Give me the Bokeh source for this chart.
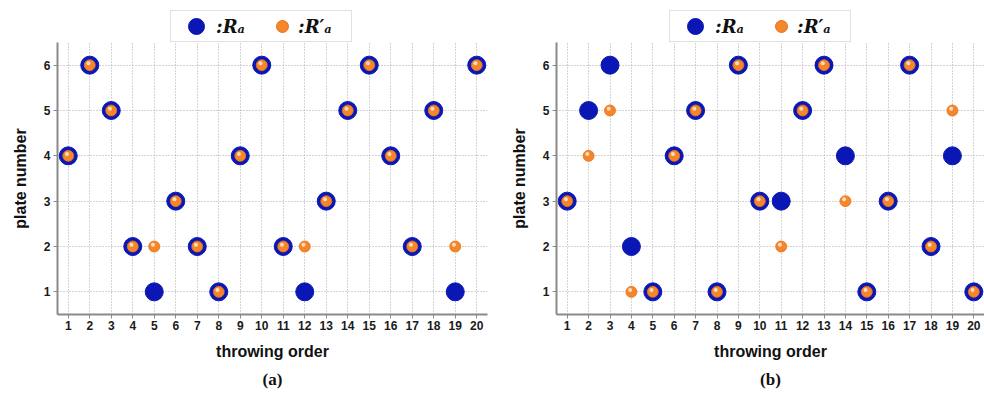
from bokeh.plotting import figure
from bokeh.models import (FixedTicker, Legend, LegendItem, Title, ColumnDataSource, Range1d,
                          BoxAnnotation)
from bokeh.layouts import row, column
from bokeh.transform import dodge
from bokeh.embed import file_html
from bokeh.resources import INLINE

order = list(range(1, 21))
ra_a = [4, 6, 5, 2, 1, 3, 2, 1, 4, 6, 2, 1, 3, 5, 6, 4, 2, 5, 1, 6]
rpa_a = [4, 6, 5, 2, 2, 3, 2, 1, 4, 6, 2, 2, 3, 5, 6, 4, 2, 5, 2, 6]
ra_b = [3, 5, 6, 2, 1, 4, 5, 1, 6, 3, 3, 5, 6, 4, 1, 3, 6, 2, 4, 1]
rpa_b = [3, 4, 5, 1, 1, 4, 5, 1, 6, 3, 2, 5, 6, 3, 1, 3, 6, 2, 5, 1]
x_ticks = list(range(1, 21))
y_ticks = [1, 2, 3, 4, 5, 6]
legend_labels = [":Rₐ", ":R′ₐ"]
captions = ["(a)", "(b)"]
x_label = "throwing order"
y_label = "plate number"

BLUE = "#0a17b5"
ORANGE = "#f6862a"
SANS = "Liberation Sans"
LEG_H = 42
MAIN_H = 361
Y0 = 100  # legend strip's own y offset, keeps its proxy glyphs out of view


def style_legend(lg, standoff):
    lg.label_text_font = "DejaVu Serif"
    lg.label_text_font_style = "bold italic"
    lg.label_text_font_size = "18px"
    lg.label_text_color = "#111111"
    lg.border_line_color = None
    lg.background_fill_alpha = 0
    lg.padding = 0
    lg.margin = 0
    lg.label_standoff = standoff


def make_legend_fig(width, frame_w, border_left, border_right, ra, rpa):
    lf = figure(width=width, height=LEG_H, output_backend="svg", toolbar_location=None,
                x_range=Range1d(0, frame_w), y_range=Range1d(Y0, Y0 + LEG_H),
                x_axis_location=None, y_axis_location=None,
                min_border_left=border_left, min_border_right=border_right,
                min_border_top=0, min_border_bottom=0)
    lf.grid.visible = False
    lf.outline_line_color = None
    src = ColumnDataSource(dict(x=order, ra=ra, rpa=rpa))
    b = lf.scatter("x", "ra", source=src, size=16, fill_color=BLUE, line_color=BLUE)
    o = lf.scatter("x", "rpa", source=src, size=12, fill_color=ORANGE, line_color="#e5701a")
    la = Legend(items=[LegendItem(label=legend_labels[0], renderers=[b])],
                location=(119, -4))
    la.glyph_width = 40
    la.glyph_height = 40
    style_legend(la, 0)
    lb = Legend(items=[LegendItem(label=legend_labels[1], renderers=[o])],
                location=(210, 1))
    lb.glyph_width = 30
    lb.glyph_height = 30
    style_legend(lb, 1)
    lf.add_layout(la, "center")
    lf.add_layout(lb, "center")
    lf.add_layout(BoxAnnotation(left=113, right=294, bottom=Y0 + 1,
                                top=Y0 + 32, fill_alpha=0, line_color="#9a9a9a", line_width=1))
    return lf


def make(ra, rpa, cap, width, border_left, border_right):
    src = ColumnDataSource(dict(x=order, ra=ra, rpa=rpa))
    p = figure(width=width, height=MAIN_H, output_backend="svg", toolbar_location=None,
               x_range=Range1d(0.5, 20.5), y_range=Range1d(0.5, 6.5),
               min_border_left=border_left, min_border_right=border_right,
               min_border_top=0, min_border_bottom=MAIN_H - 272)
    p.outline_line_color = None
    p.background_fill_color = "white"
    p.border_fill_color = "white"

    for ax in (p.xaxis, p.yaxis):
        ax.axis_line_color = "#8a8a8a"
        ax.axis_line_width = 2
        ax.major_tick_line_color = "#8a8a8a"
        ax.major_tick_out = 4
        ax.major_tick_in = 0
        ax.minor_tick_line_color = None
        ax.major_label_text_font = SANS
        ax.major_label_text_font_style = "bold"
        ax.major_label_text_font_size = "12px"
        ax.major_label_text_color = "#1a1a1a"
        ax.axis_label_text_font = SANS
        ax.axis_label_text_font_style = "bold"
        ax.axis_label_text_font_size = "16px"
        ax.axis_label_text_color = "#111111"
    p.xaxis.ticker = FixedTicker(ticks=x_ticks)
    p.yaxis.ticker = FixedTicker(ticks=y_ticks)
    p.xaxis.axis_label = x_label
    p.yaxis.axis_label = y_label
    p.xaxis.major_label_standoff = 2
    p.yaxis.major_label_standoff = 3
    p.xaxis.axis_label_standoff = 10
    p.yaxis.axis_label_standoff = 12

    for g in (p.xgrid, p.ygrid):
        g.grid_line_color = "#a8a8a8"
        g.grid_line_dash = "1 2"
        g.grid_line_width = 1

    p.scatter("x", "ra", source=src, size=18, fill_color=BLUE, line_color=BLUE)
    p.scatter("x", "rpa", source=src, size=11, fill_color=ORANGE, line_color="#e5701a",
              line_width=0.8)
    p.scatter(x=dodge("x", -0.06), y=dodge("rpa", 0.04), source=src, size=4,
              fill_color="#fde3c6", line_color=None, fill_alpha=0.95)

    t = Title(text=cap, align="center", text_font="Liberation Serif", text_font_style="bold",
              text_font_size="17px", text_color="#111111", offset=-10)
    p.add_layout(t, "below")
    return p


p1 = make(ra_a, rpa_a, captions[0], 488, 57, 1)
p2 = make(ra_b, rpa_b, captions[1], 496, 68, 0)
l1 = make_legend_fig(488, 430, 57, 1, ra_a, rpa_a)
l2 = make_legend_fig(496, 428, 68, 0, ra_b, rpa_b)
layout = row(column(l1, p1, spacing=0), column(l2, p2, spacing=0), spacing=0)
open("out.html", "w").write(file_html(layout, INLINE))
